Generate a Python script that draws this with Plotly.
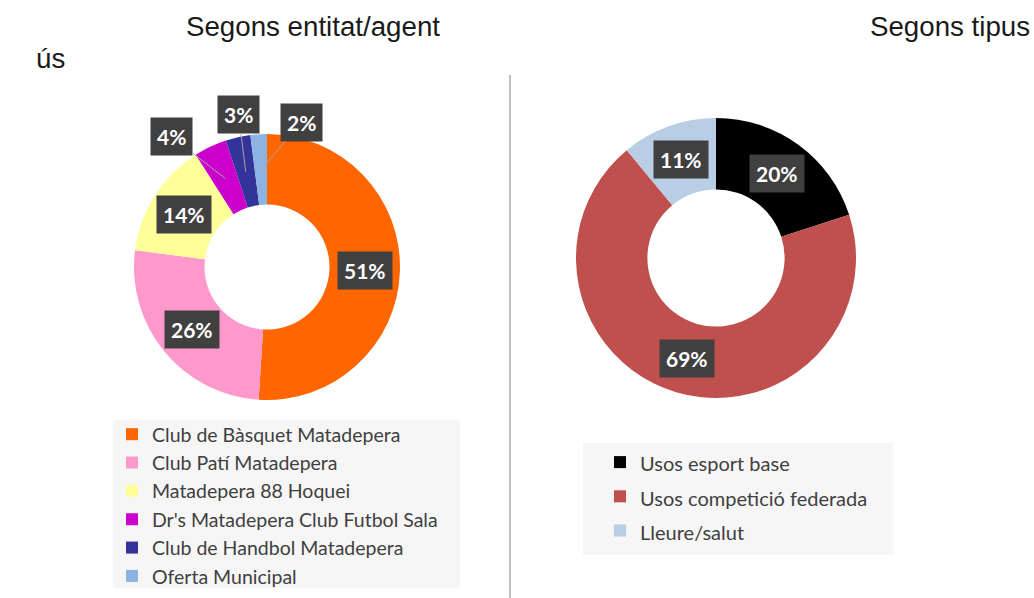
import math
import plotly.graph_objects as go

W, H = 1034, 598

# ---------------- data ----------------
ent_labels = ["Club de Bàsquet Matadepera", "Club Patí Matadepera", "Matadepera 88 Hoquei",
              "Dr's Matadepera Club Futbol Sala", "Club de Handbol Matadepera", "Oferta Municipal"]
ent_values = [51, 26, 14, 4, 3, 2]
ent_colors = ["#FF6600", "#FF99CC", "#FFFF99", "#CC00CC", "#333399", "#8DB3E2"]

tip_labels = ["Usos esport base", "Usos competició federada", "Lleure/salut"]
tip_values = [20, 69, 11]
tip_colors = ["#000000", "#C0504D", "#B9CDE5"]

title_left = "Segons entitat/agent"
title_right = "Segons tipus"
subtitle = "ús"

# ---------------- geometry (style) ----------------
L_CX, L_CY, L_R, L_HOLE = 267, 267, 133, 0.47
R_CX, R_CY, R_R, R_HOLE = 716, 258, 140, 0.49
SMALL_OFFSETS = {3: (-54, -42), 4: (-7, -57), 5: (41, -47)}


def domain(cx, cy, r):
    return dict(x=[(cx - r) / W, (cx + r) / W], y=[1 - (cy + r) / H, 1 - (cy - r) / H])


def slice_mid(values, i, cx, cy, r):
    tot = sum(values)
    cum = sum(values[:i]) + values[i] / 2
    ang = 2 * math.pi * cum / tot
    x = cx + r * math.sin(ang)
    y = cy - r * math.cos(ang)
    return x / W, 1 - y / H


tip_legend_labels = [f"<span style='font-size:20px'>{t}</span>" for t in tip_labels]

fig = go.Figure()

fig.add_trace(go.Pie(
    labels=ent_labels, values=ent_values, sort=False, direction="clockwise", rotation=0,
    hole=L_HOLE, marker=dict(colors=ent_colors, line=dict(color="white", width=0)),
    textinfo="none", domain=domain(L_CX, L_CY, L_R), legend="legend", hoverinfo="label+percent",
))
fig.add_trace(go.Pie(
    labels=tip_legend_labels, values=tip_values, sort=False, direction="clockwise", rotation=0,
    hole=R_HOLE, marker=dict(colors=tip_colors, line=dict(color="white", width=0)),
    textinfo="none", domain=domain(R_CX, R_CY, R_R), legend="legend2", hoverinfo="label+percent",
))

annotations = []
box = dict(bgcolor="#404040", borderpad=6,
           font=dict(family="Lato", size=21, color="white", weight="bold"))

tot_l = sum(ent_values)
for i, v in enumerate(ent_values):
    txt = f"{round(100 * v / tot_l)}%"
    rmid = L_R * (1 + L_HOLE) / 2
    x, y = slice_mid(ent_values, i, L_CX, L_CY, rmid)
    if i in SMALL_OFFSETS:
        ax, ay = SMALL_OFFSETS[i]
        annotations.append(dict(x=x, y=y, xref="paper", yref="paper", text=txt, showarrow=True,
                                arrowhead=0, arrowwidth=1, arrowcolor="#A6A6A6", ax=ax, ay=ay, **box))
    else:
        annotations.append(dict(x=x, y=y, xref="paper", yref="paper", text=txt, showarrow=False,
                                xanchor="center", yanchor="middle", **box))

tot_r = sum(tip_values)
for i, v in enumerate(tip_values):
    txt = f"{round(100 * v / tot_r)}%"
    rmid = R_R * (1 + R_HOLE) / 2
    x, y = slice_mid(tip_values, i, R_CX, R_CY, rmid)
    annotations.append(dict(x=x, y=y, xref="paper", yref="paper", text=txt, showarrow=False,
                            xanchor="center", yanchor="middle", **box))

tfont = dict(family="Liberation Sans, Arial", size=27.7, color="#1a1a1a")
annotations.append(dict(x=313 / W, y=1 - 27 / H, xref="paper", yref="paper", text=title_left,
                        showarrow=False, xanchor="center", yanchor="middle", font=tfont))
annotations.append(dict(x=868 / W, y=1 - 27 / H, xref="paper", yref="paper", text=title_right,
                        showarrow=False, xanchor="left", yanchor="middle", font=tfont))
annotations.append(dict(x=34 / W, y=1 - 58 / H, xref="paper", yref="paper", text=subtitle,
                        showarrow=False, xanchor="left", yanchor="middle", font=tfont))

shapes = [
    dict(type="line", xref="paper", yref="paper", x0=510 / W, x1=510 / W, y0=0, y1=1 - 75 / H,
         line=dict(color="#7F7F7F", width=1)),
    dict(type="rect", xref="paper", yref="paper", x0=113 / W, x1=460 / W, y0=1 - 588 / H, y1=1 - 420 / H,
         fillcolor="#F6F6F6", line=dict(width=0), layer="below"),
    dict(type="rect", xref="paper", yref="paper", x0=583 / W, x1=893 / W, y0=1 - 555 / H, y1=1 - 443 / H,
         fillcolor="#F6F6F6", line=dict(width=0), layer="below"),
]

fig.update_layout(
    width=W, height=H, margin=dict(l=0, r=0, t=0, b=0),
    paper_bgcolor="white", plot_bgcolor="white",
    annotations=annotations, shapes=shapes,
    legend=dict(x=112 / W, y=1 - 415 / H, xanchor="left", yanchor="top", bgcolor="rgba(0,0,0,0)",
                font=dict(family="Lato", size=19.5, color="#404040")),
    legend2=dict(x=600 / W, y=1 - 440 / H, xanchor="left", yanchor="top", bgcolor="rgba(0,0,0,0)",
                 font=dict(family="Lato", size=24, color="#404040")),
)

fig.write_html("out.html", config={"displayModeBar": False},
               post_script="document.body.style.margin='0';")
